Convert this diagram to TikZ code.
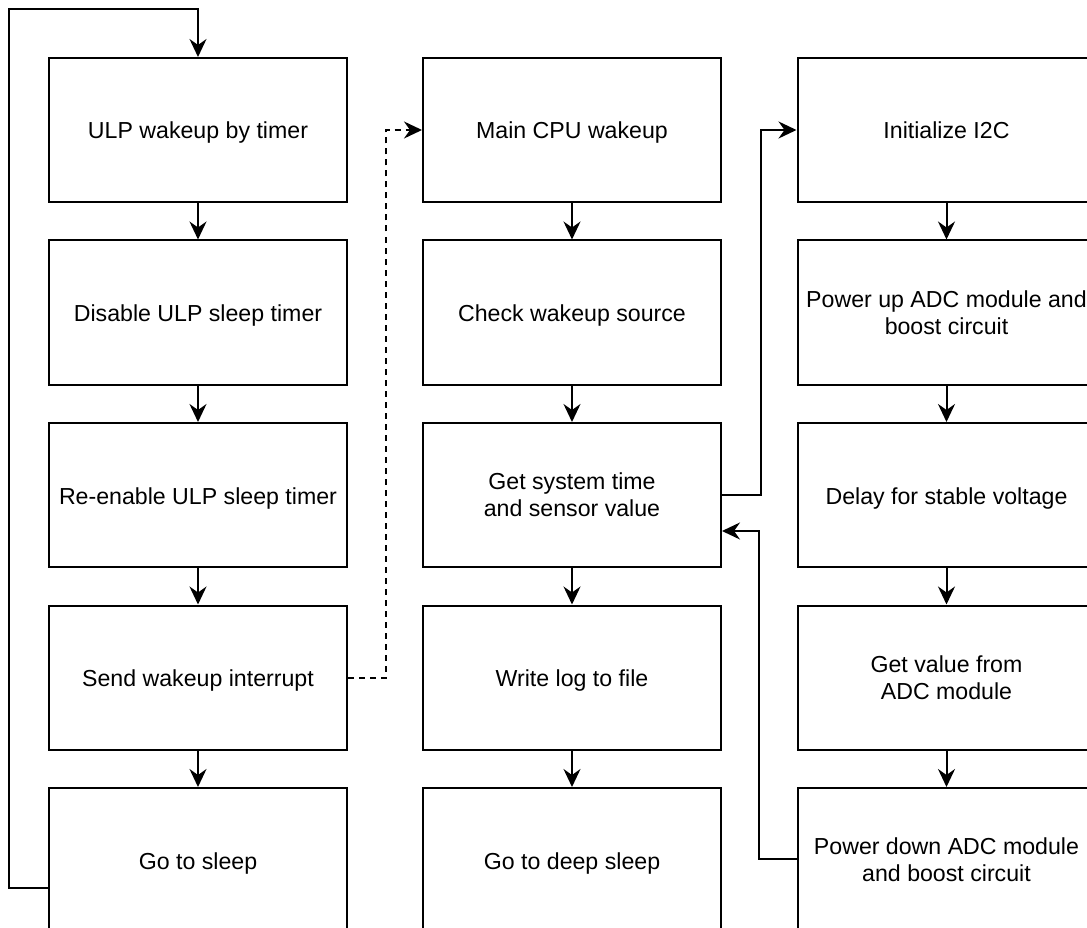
\documentclass[tikz,border=0pt]{standalone}
\usepackage{fontspec}
\setmainfont{Liberation Sans}
\usetikzlibrary{arrows.meta}
\tikzset{
  stepbox/.style={draw=black, line width=2pt, fill=white, minimum width=298pt,
    minimum height=144pt, inner sep=0pt, align=center,
    font=\fontsize{23.15}{27}\selectfont},
  onebox/.style={stepbox, text height=18pt, text depth=0pt},
  flow/.style={line width=2pt, -{Stealth[length=18pt,width=17pt,inset=6pt]}},
  dashflow/.style={flow, dash pattern=on 6pt off 5pt},
}
\begin{document}
\begin{tikzpicture}[x=1pt,y=-1pt]
\useasboundingbox (0,0) rectangle (1087,928);
\clip (0,0) rectangle (1087,928);
\fill[white] (0,0) rectangle (1087,928);

% ULP column
\node[onebox] (u1) at (198,130)   {ULP wakeup by timer};
\node[onebox] (u2) at (198,312.5) {Disable ULP sleep timer};
\node[onebox] (u3) at (198,495)   {Re-enable ULP sleep timer};
\node[onebox] (u4) at (198,677.5) {Send wakeup interrupt};
\node[onebox] (u5) at (198,860)   {Go to sleep};

% main CPU column
\node[onebox] (m1) at (572,130)   {Main CPU wakeup};
\node[onebox] (m2) at (572,312.5) {Check wakeup source};
\node[stepbox] (m3) at (572,495)  {Get system time\\and sensor value};
\node[onebox] (m4) at (572,677.5) {Write log to file};
\node[onebox] (m5) at (572,860)   {Go to deep sleep};

% sensor column
\node[onebox] (c1) at (946.5,130)    {Initialize I2C};
\node[stepbox] (c2) at (946.5,312.5) {Power up ADC module and\\boost circuit};
\node[onebox] (c3) at (946.5,495)    {Delay for stable voltage};
\node[stepbox] (c4) at (946.5,677.5) {Get value from\\ADC module};
\node[stepbox] (c5) at (946.5,860)   {Power down ADC module\\and boost circuit};

% straight flow inside each column
\foreach \a/\b in {u1/u2,u2/u3,u3/u4,u4/u5,m1/m2,m2/m3,m3/m4,m4/m5,c1/c2,c2/c3,c3/c4,c4/c5}
  \draw[flow] (\a.south) -- (\b.north);

% ULP loop back to the timer wakeup
\draw[flow] ([yshift=-28pt]u5.west) -- ++(-39,0) |- ([yshift=48pt]u1.north) -- (u1.north);

% wakeup interrupt to the main CPU
\draw[dashflow] (u4.east) -- ++(38,0) |- (m1.west);

% sensor readout and return
\draw[flow] (m3.east) -- ++(39,0) |- (c1.west);
\draw[flow] ([yshift=1pt]c5.west) -- ++(-37.5,0) |- ([yshift=-36pt]m3.east);
\end{tikzpicture}
\end{document}
